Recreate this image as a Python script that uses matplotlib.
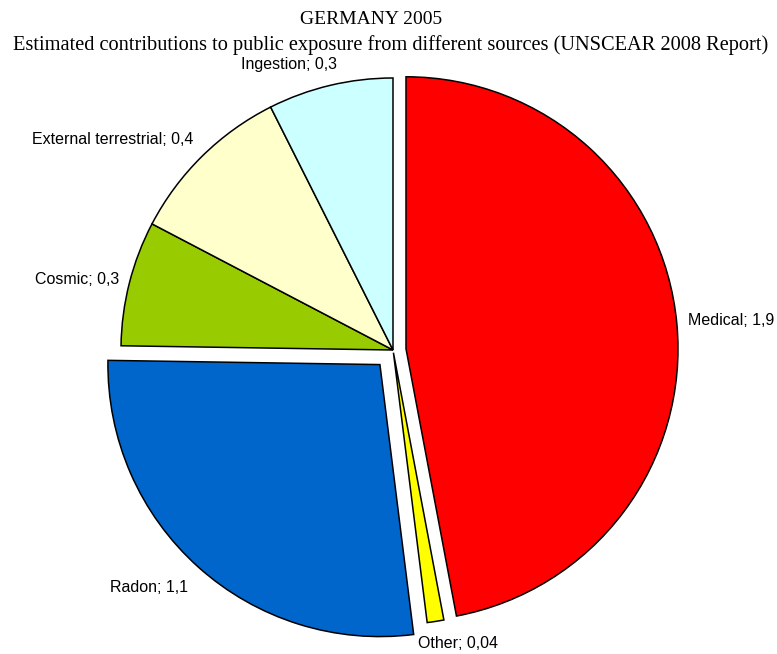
import matplotlib
matplotlib.use("Agg")
import matplotlib.pyplot as plt

categories = ["Medical", "Other", "Radon", "Cosmic", "External terrestrial", "Ingestion"]
values = [1.9, 0.04, 1.1, 0.3, 0.4, 0.3]
value_labels = ["1,9", "0,04", "1,1", "0,3", "0,4", "0,3"]
colors = ["#FF0000", "#FFFF00", "#0066CC", "#99CC00", "#FFFFCC", "#CCFFFF"]
explode = [0.048, 0.01, 0.072, 0, 0, 0]

W, H = 777, 654
cx, cy, R = 393, 350, 272  # pie centre/radius in pixels

fig = plt.figure(figsize=(W / 100, H / 100), dpi=100)
ax = fig.add_axes([0, 0, 1, 1])
ax.pie(values, colors=colors, explode=explode, startangle=90, counterclock=False,
       radius=1.0, wedgeprops=dict(edgecolor="black", linewidth=1.1))
ax.set_xlim(-cx / R, (W - cx) / R)
ax.set_ylim(-(H - cy) / R, cy / R)
ax.set_aspect("equal")
ax.axis("off")

# label anchor positions (pixels): (x, y, ha)
label_pos = [
    (688, 321, "left"),
    (418, 643, "left"),
    (110, 588, "left"),
    (119, 280, "right"),
    (193, 139, "right"),
    (337, 65, "right"),
]
for cat, vl, (px, py, ha) in zip(categories, value_labels, label_pos):
    ax.text((px - cx) / R, (cy - py) / R, f"{cat}; {vl}", ha=ha, va="center",
            fontsize=11.5, family="Liberation Sans", color="black")

fig.text(371 / W, 1 - 20 / H, "GERMANY 2005", ha="center", va="center",
         fontsize=14, family="Liberation Serif")
fig.text(391 / W, 1 - 45 / H,
         "Estimated contributions to public exposure from different sources (UNSCEAR 2008 Report)",
         ha="center", va="center", fontsize=14.7, family="Liberation Serif")

fig.savefig("out.png", dpi=100)
